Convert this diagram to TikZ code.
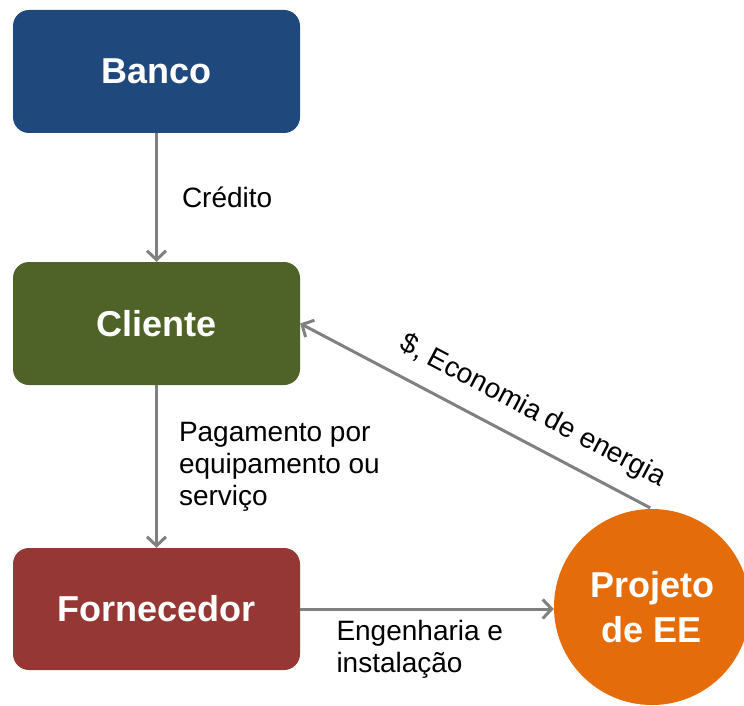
\documentclass[tikz,border=0pt]{standalone}
\usepackage{fontspec}
\setmainfont{Liberation Sans}
\usetikzlibrary{arrows.meta}
\definecolor{bancoC}{RGB}{31,73,125}
\definecolor{clienteC}{RGB}{79,98,40}
\definecolor{fornC}{RGB}{149,55,53}
\definecolor{eeC}{RGB}{228,108,10}
\definecolor{arrC}{RGB}{128,128,128}
\tikzset{
  box/.style={rectangle, rounded corners=16pt, minimum width=287pt, minimum height=123pt, inner sep=0pt,
    text=white, font=\fontsize{36}{45}\selectfont\bfseries},
  eecircle/.style={circle, fill=eeC, minimum size=196pt, inner sep=0pt, align=center,
    text=white, font=\fontsize{36}{45}\selectfont\bfseries},
  arr/.style={draw=arrC, line width=3pt, -{Straight Barb[length=9pt,width=19pt]}},
  lbl/.style={inner sep=0pt, align=left, text=black, font=\fontsize{28}{32}\selectfont}
}
\begin{document}
\begin{tikzpicture}[x=1pt,y=-1pt]
\useasboundingbox (0,0) rectangle (744,706);
\clip (0,0) rectangle (744,706);
\node[box, fill=bancoC] (banco) at (156.5,71.5) {Banco};
\node[box, fill=clienteC] (cliente) at (156.5,323.5) {Cliente};
\node[box, fill=fornC, minimum height=122pt] (forn) at (156.5,609) {Fornecedor};
\node[eecircle] (ee) at (652,607) {Projeto\\de EE};

\draw[arr] (banco) -- (cliente)
  node[lbl, midway, anchor=west, xshift=24pt] (lcred) {Crédito};
\draw[arr] (cliente) -- (forn)
  node[lbl, midway, anchor=west, xshift=21pt] (lpag) {Pagamento por\\equipamento ou\\serviço};
\draw[arr] (forn.east) -- (forn.east -| ee.west)
  node[lbl, midway, anchor=west, xshift=-92pt, yshift=-40pt] (leng) {Engenharia e\\instalação};
\draw[arr, shorten <=2pt] (ee.north) -- (cliente.east)
  node[lbl, pos=0.38, sloped, above=16pt] (lecon) {\$, Economia de energia};
\end{tikzpicture}
\end{document}
